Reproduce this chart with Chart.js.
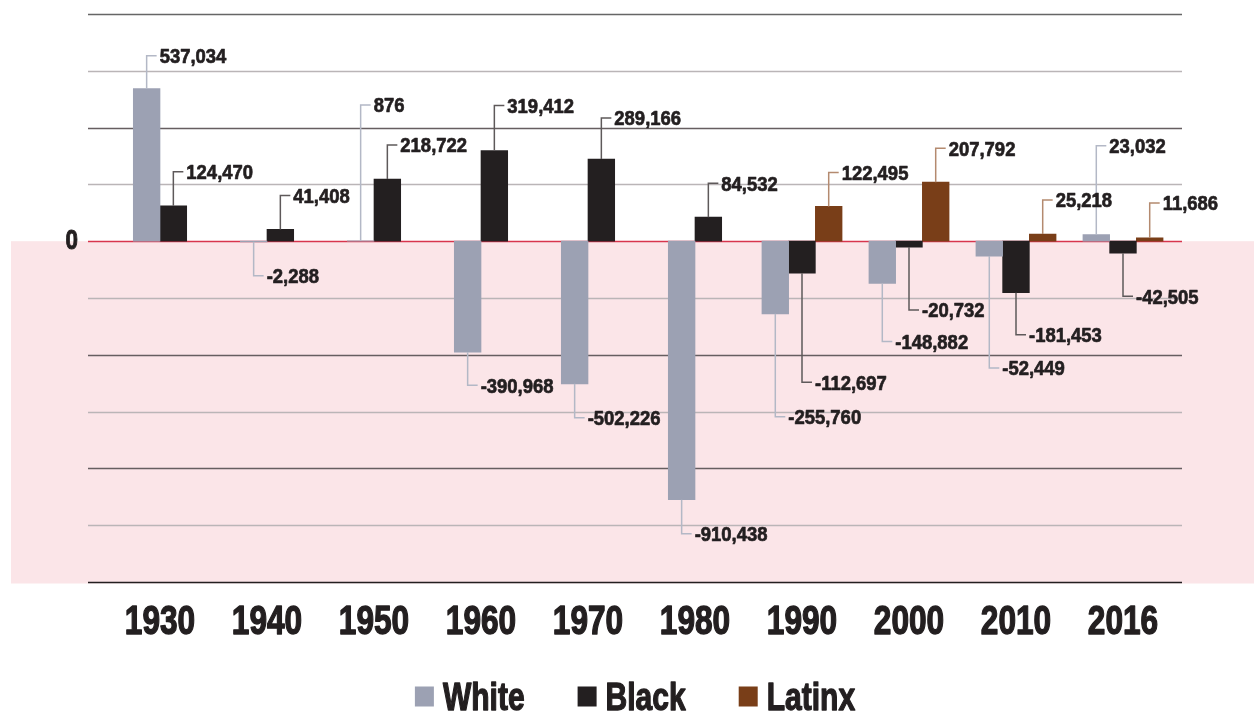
<!DOCTYPE html>
<html>
<head>
<meta charset="utf-8">
<script src="https://cdn.jsdelivr.net/npm/chart.js@4.4.1/dist/chart.umd.min.js"></script>
<style>
  html, body { margin: 0; padding: 0; background: #ffffff; }
  canvas { display: block; }
</style>
</head>
<body>
<canvas id="migration" width="1254" height="713"></canvas>
<script>
// Net migration by decade and group
const years  = ['1930', '1940', '1950', '1960', '1970', '1980', '1990', '2000', '2010', '2016'];
const white  = [537034, -2288, 876, -390968, -502226, -910438, -255760, -148882, -52449, 23032];
const black  = [124470, 41408, 218722, 319412, 289166, 84532, -112697, -20732, -181453, -42505];
const latinx = [null, null, null, null, null, null, 122495, 207792, 25218, 11686];

// Value-axis gridlines
const gridValues = [800000, 600000, 400000, 200000, 0, -200000, -400000, -600000, -800000, -1000000, -1200000];

// Leader lengths (px) used to stagger the value labels
const leadWhite  = [33, 34, 136, 33, 34, 34, 103, 58, 112, 89];
const leadBlack  = [34, 34, 34, 45, 41, 34, 109, 63, 42, 43];
const leadLatinx = [0, 0, 0, 0, 0, 0, 34, 34, 34, 35];

const FAMILY = '"Liberation Sans", Arial, sans-serif';
const INK = '#231f20';

const seriesStyle = [
  { label: 'White',  fill: '#9ca1b3', leader: '#b3b8c6', lead: leadWhite },
  { label: 'Black',  fill: '#231f20', leader: '#5e595a', lead: leadBlack },
  { label: 'Latinx', fill: '#793e18', leader: '#b48a6f', lead: leadLatinx }
];

// Heavy condensed text: horizontally squeezed, thickened with a thin outline,
// vertically centred on the cap height
function condensedText(ctx, text, x, yMid, size, squeeze, align, weightPx) {
  ctx.save();
  ctx.font = 'bold ' + size + 'px ' + FAMILY;
  ctx.textBaseline = 'alphabetic';
  ctx.textAlign = 'left';
  const w = ctx.measureText(text).width * squeeze;
  let left = x;
  if (align === 'center') left = x - w / 2;
  else if (align === 'right') left = x - w;
  ctx.translate(left, yMid + size * 0.358);
  ctx.scale(squeeze, 1);
  ctx.fillStyle = INK;
  ctx.fillText(text, 0, 0);
  if (weightPx) {
    ctx.strokeStyle = INK;
    ctx.lineJoin = 'round';
    ctx.lineWidth = weightPx;
    ctx.strokeText(text, 0, 0);
  }
  ctx.restore();
  return w;
}

function condensedWidth(ctx, text, size, squeeze) {
  ctx.save();
  ctx.font = 'bold ' + size + 'px ' + FAMILY;
  const w = ctx.measureText(text).width * squeeze;
  ctx.restore();
  return w;
}

// Pink band below zero, the ruled gridlines and the axis labels
const backdrop = {
  id: 'backdrop',
  beforeDraw(chart) {
    const { ctx, chartArea, scales: { x, y } } = chart;
    const zero = y.getPixelForValue(0);
    const bottom = y.getPixelForValue(y.min);
    ctx.save();
    ctx.fillStyle = '#fbe5e8';
    ctx.fillRect(11, zero, chart.width - 11, bottom - zero + 1.5);

    const x0 = chartArea.left - 18.5;
    const x1 = chartArea.right + 5.5;
    gridValues.forEach(v => {
      if (v === 0) return;
      const py = Math.round(y.getPixelForValue(v)) + 0.5;
      let colour = (v % 400000 === 0) ? '#665e60' : '#bab5b7';
      if (v === y.min) colour = INK;
      if (v === y.max) colour = '#666666';
      ctx.strokeStyle = colour;
      ctx.lineWidth = 1.5;
      ctx.beginPath();
      ctx.moveTo(x0, py);
      ctx.lineTo(x1, py);
      ctx.stroke();
    });
    condensedText(ctx, '0', x0 - 10, zero - 2, 28, 0.8, 'right', 1);

    years.forEach((yr, i) => {
      condensedText(ctx, yr, x.getPixelForTick(i), bottom + 37.5, 40, 0.79, 'center', 1.4);
    });
    ctx.restore();
  },
  beforeDatasetsDraw(chart) {
    const { ctx, chartArea, scales: { y } } = chart;
    const py = Math.round(y.getPixelForValue(0)) + 0.5;
    ctx.save();
    ctx.strokeStyle = '#d8354d';
    ctx.lineWidth = 1.5;
    ctx.beginPath();
    ctx.moveTo(chartArea.left - 18.5, py);
    ctx.lineTo(chartArea.right + 5.5, py);
    ctx.stroke();
    ctx.restore();
  }
};

// Value labels on elbow leaders
const valueLabels = {
  id: 'valueLabels',
  afterDatasetsDraw(chart) {
    const { ctx } = chart;
    ctx.save();
    chart.data.datasets.forEach((ds, i) => {
      const meta = chart.getDatasetMeta(i);
      const style = seriesStyle[i];
      ds.data.forEach((v, j) => {
        if (v === null || v === undefined) return;
        const bar = meta.data[j];
        const len = style.lead[j];
        const x = bar.x;
        const endY = v >= 0 ? bar.y - len : bar.y + len;
        ctx.strokeStyle = style.leader;
        ctx.lineWidth = 1.5;
        ctx.beginPath();
        ctx.moveTo(x, bar.y);
        ctx.lineTo(x, endY);
        ctx.lineTo(x + 10, endY);
        ctx.stroke();
        condensedText(ctx, v.toLocaleString('en-US'), x + 13, endY, 20.5, 0.9, 'left', 0.7);
      });
    });
    ctx.restore();
  }
};

// Legend row under the category labels
const legendRow = {
  id: 'legendRow',
  afterDraw(chart) {
    const { ctx, chartArea } = chart;
    const box = 19, gap = 9, between = 53, size = 38, squeeze = 0.79;
    const items = chart.data.datasets.map((ds, i) => ({
      text: ds.label, colour: seriesStyle[i].fill, w: condensedWidth(ctx, ds.label, size, squeeze)
    }));
    const total = items.reduce((s, it) => s + box + gap + it.w, 0) + between * (items.length - 1);
    const centre = (chartArea.left - 18.5 + chartArea.right + 5.5) / 2;
    let x = centre - total / 2;
    const cy = 696;
    ctx.save();
    items.forEach(it => {
      ctx.fillStyle = it.colour;
      ctx.fillRect(x, cy - box / 2, box, box + 1);
      x += box + gap;
      condensedText(ctx, it.text, x, cy, size, squeeze, 'left', 1.3);
      x += it.w + between;
    });
    ctx.restore();
  }
};

new Chart(document.getElementById('migration'), {
  type: 'bar',
  data: {
    labels: years,
    datasets: seriesStyle.map((s, i) => ({
      label: s.label,
      data: [white, black, latinx][i],
      backgroundColor: s.fill,
      borderWidth: 0
    }))
  },
  options: {
    responsive: false,
    animation: false,
    layout: { padding: { left: 0, right: 77.5, top: 14, bottom: 72 } },
    datasets: { bar: { barThickness: 26.7, skipNull: true } },
    plugins: { legend: { display: false }, tooltip: { enabled: false } },
    scales: {
      x: {
        grid: { display: false, drawTicks: false },
        border: { display: false },
        ticks: { display: false },
        afterFit(scale) { scale.height = 59; scale.paddingLeft = 0; scale.paddingRight = 0; }
      },
      y: {
        min: -1200000,
        max: 800000,
        grid: { display: false, drawTicks: false },
        border: { display: false },
        ticks: { display: false, stepSize: 200000 },
        afterFit(scale) { scale.width = 106.5; scale.paddingTop = 0; scale.paddingBottom = 0; }
      }
    }
  },
  plugins: [backdrop, valueLabels, legendRow]
});
</script>
</body>
</html>
